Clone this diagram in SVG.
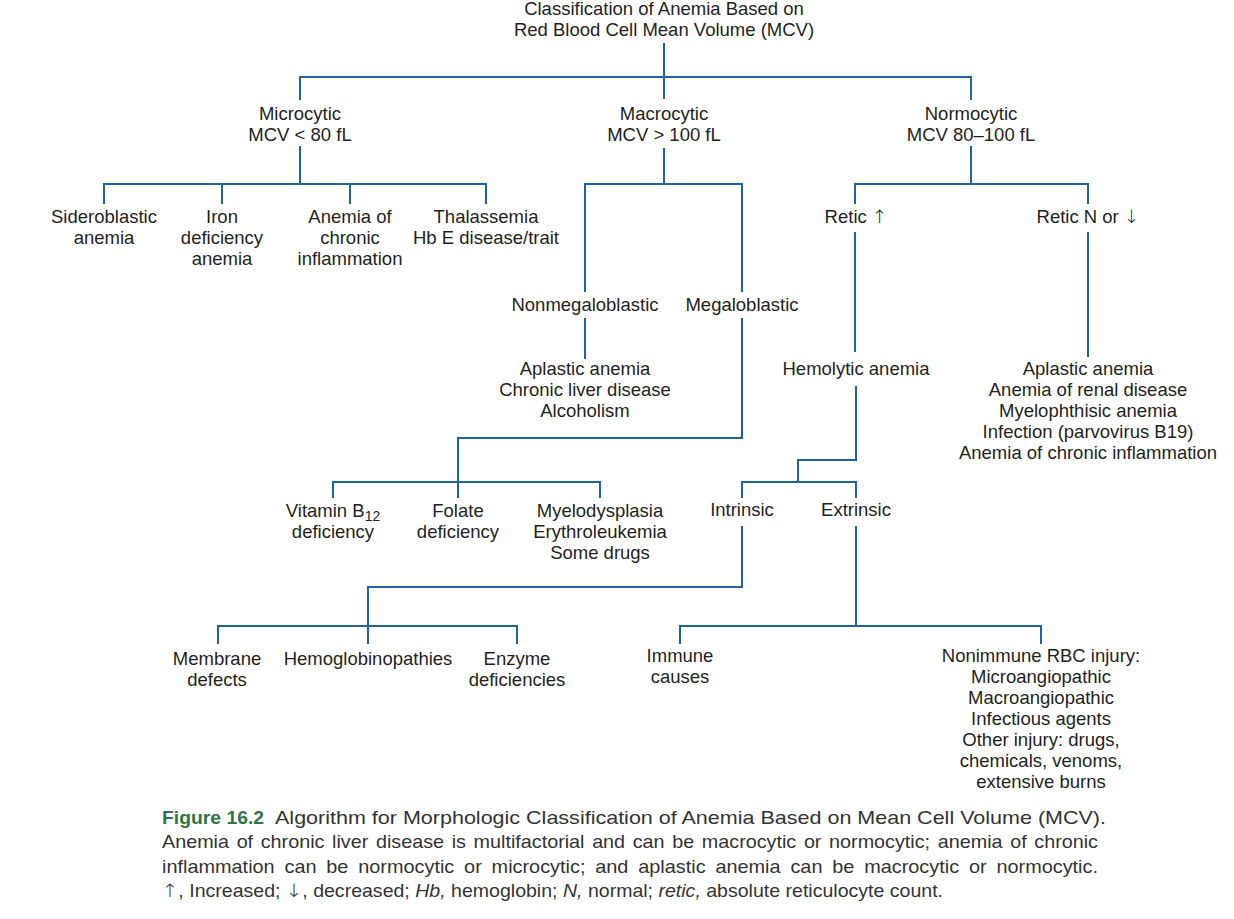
<svg xmlns="http://www.w3.org/2000/svg" width="1234" height="919" viewBox="0 0 1234 919">
<style>
.t{font-family:"Liberation Sans",Arial,"DejaVu Sans",sans-serif;font-size:18.5px;fill:#231f20;text-anchor:middle}
.c{fill:none;stroke:#1f63a6;stroke-width:2}
.cap{font-family:"Liberation Sans",Arial,"DejaVu Sans",sans-serif;font-size:18.5px;fill:#333}
.ar{font-family:"DejaVu Sans",sans-serif;font-weight:200}
</style>
<rect width="1234" height="919" fill="#fff"/>
<g id="connectors" class="c">
<path d="M664,43V77"/>
<path d="M300,100V77H971V100"/>
<path d="M664,77V99"/>
<path d="M300,146V184"/>
<path d="M104,204V184H486V204"/>
<path d="M222,184V204"/>
<path d="M350,184V204"/>
<path d="M664,148V184"/>
<path d="M585,292V184H742V292"/>
<path d="M971,146V184"/>
<path d="M855,204V184H1088V204"/>
<path d="M855,232V352"/>
<path d="M1088,232V357"/>
<path d="M585,318V359"/>
<path d="M742,318V438H458V498"/>
<path d="M333,498V482H600V498"/>
<path d="M856,386V460H798V482"/>
<path d="M742,498V482H856V498"/>
<path d="M742,526V587H368V644"/>
<path d="M218,644V626H517V644"/>
<path d="M856,526V626"/>
<path d="M680,644V626H1041V644"/>
</g>
<g id="root"><text class="t" x="664" y="15">Classification of Anemia Based on</text><text class="t" x="664" y="36">Red Blood Cell Mean Volume (MCV)</text></g>
<g id="microcytic"><text class="t" x="300" y="120">Microcytic</text><text class="t" x="300" y="141">MCV &lt; 80 fL</text></g>
<g id="macrocytic"><text class="t" x="664" y="120">Macrocytic</text><text class="t" x="664" y="141">MCV &gt; 100 fL</text></g>
<g id="normocytic"><text class="t" x="971" y="120">Normocytic</text><text class="t" x="971" y="141">MCV 80–100 fL</text></g>
<g id="sideroblastic"><text class="t" x="104" y="223">Sideroblastic</text><text class="t" x="104" y="244">anemia</text></g>
<g id="iron"><text class="t" x="222" y="223">Iron</text><text class="t" x="222" y="244">deficiency</text><text class="t" x="222" y="265">anemia</text></g>
<g id="chronic-inflammation"><text class="t" x="350" y="223">Anemia of</text><text class="t" x="350" y="244">chronic</text><text class="t" x="350" y="265">inflammation</text></g>
<g id="thalassemia"><text class="t" x="486" y="223">Thalassemia</text><text class="t" x="486" y="244">Hb E disease/trait</text></g>
<g id="retic-up"><text class="t" x="856" y="223">Retic <tspan class="ar">↑</tspan></text></g>
<g id="retic-down"><text class="t" x="1088" y="223">Retic N or <tspan class="ar">↓</tspan></text></g>
<g id="nonmegaloblastic"><text class="t" x="585" y="311">Nonmegaloblastic</text></g>
<g id="megaloblastic"><text class="t" x="742" y="311">Megaloblastic</text></g>
<g id="nonmegaloblastic-causes"><text class="t" x="585" y="375">Aplastic anemia</text><text class="t" x="585" y="396">Chronic liver disease</text><text class="t" x="585" y="417">Alcoholism</text></g>
<g id="hemolytic"><text class="t" x="856" y="375">Hemolytic anemia</text></g>
<g id="retic-down-causes"><text class="t" x="1088" y="375">Aplastic anemia</text><text class="t" x="1088" y="396">Anemia of renal disease</text><text class="t" x="1088" y="417">Myelophthisic anemia</text><text class="t" x="1088" y="438">Infection (parvovirus B19)</text><text class="t" x="1088" y="459">Anemia of chronic inflammation</text></g>
<g id="b12"><text class="t" x="333" y="517">Vitamin B<tspan font-size="14" dy="4">12</tspan></text><text class="t" x="333" y="538">deficiency</text></g>
<g id="folate"><text class="t" x="458" y="517">Folate</text><text class="t" x="458" y="538">deficiency</text></g>
<g id="myelodysplasia"><text class="t" x="600" y="517">Myelodysplasia</text><text class="t" x="600" y="538">Erythroleukemia</text><text class="t" x="600" y="559">Some drugs</text></g>
<g id="intrinsic"><text class="t" x="742" y="516">Intrinsic</text></g>
<g id="extrinsic"><text class="t" x="856" y="516">Extrinsic</text></g>
<g id="membrane"><text class="t" x="217" y="665">Membrane</text><text class="t" x="217" y="686">defects</text></g>
<g id="hemoglobinopathies"><text class="t" x="368" y="665">Hemoglobinopathies</text></g>
<g id="enzyme"><text class="t" x="517" y="665">Enzyme</text><text class="t" x="517" y="686">deficiencies</text></g>
<g id="immune"><text class="t" x="680" y="662">Immune</text><text class="t" x="680" y="683">causes</text></g>
<g id="nonimmune"><text class="t" x="1041" y="662">Nonimmune RBC injury:</text><text class="t" x="1041" y="683">Microangiopathic</text><text class="t" x="1041" y="704">Macroangiopathic</text><text class="t" x="1041" y="725">Infectious agents</text><text class="t" x="1041" y="746">Other injury: drugs,</text><text class="t" x="1041" y="767">chemicals, venoms,</text><text class="t" x="1041" y="788">extensive burns</text></g>
<g id="caption">
<text class="cap" x="162" y="824" font-weight="bold" style="fill:#2e7545" textLength="102" lengthAdjust="spacingAndGlyphs">Figure 16.2</text>
<text class="cap" x="275" y="824" textLength="831" lengthAdjust="spacingAndGlyphs">Algorithm for Morphologic Classification of Anemia Based on Mean Cell Volume (MCV).</text>
<text class="cap" x="162" y="848" word-spacing="2" textLength="936" lengthAdjust="spacingAndGlyphs">Anemia of chronic liver disease is multifactorial and can be macrocytic or normocytic; anemia of chronic</text>
<text class="cap" x="162" y="873" word-spacing="4" textLength="936" lengthAdjust="spacingAndGlyphs">inflammation can be normocytic or microcytic; and aplastic anemia can be macrocytic or normocytic.</text>
<text class="cap" x="162" y="897" textLength="781" lengthAdjust="spacingAndGlyphs"><tspan class="ar">↑</tspan>, Increased; <tspan class="ar">↓</tspan>, decreased; <tspan font-style="italic">Hb,</tspan> hemoglobin; <tspan font-style="italic">N,</tspan> normal; <tspan font-style="italic">retic,</tspan> absolute reticulocyte count.</text>
</g>
</svg>
